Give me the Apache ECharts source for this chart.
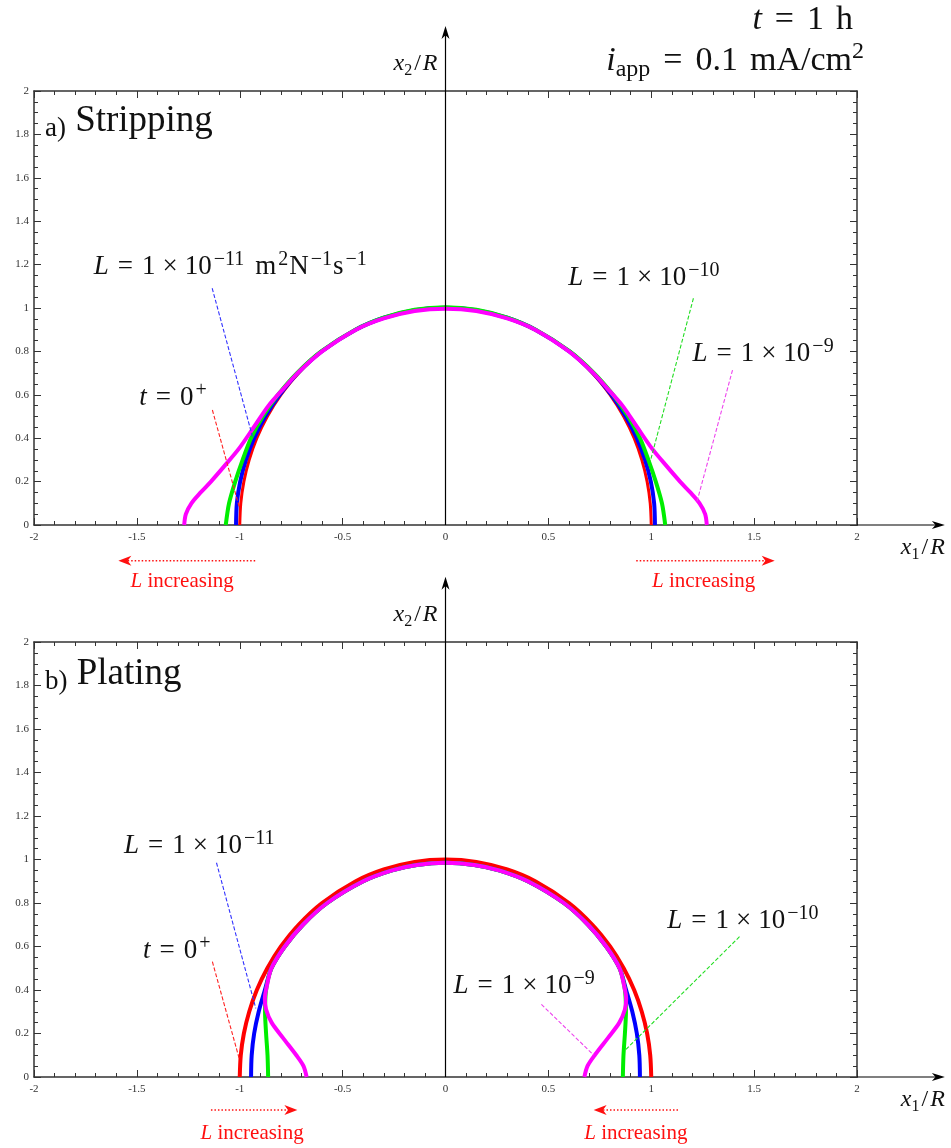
<!DOCTYPE html>
<html>
<head>
<meta charset="utf-8">
<script src="https://cdn.jsdelivr.net/npm/echarts@6/dist/echarts.min.js"></script>
<style>
  html, body { margin: 0; padding: 0; background: #fff; }
  #chart { width: 951px; height: 1148px; }
</style>
</head>
<body>
<div id="chart"></div>
<script>
(function () {
  'use strict';

  var SERIF = '"Liberation Serif", "DejaVu Serif", serif';

  // axes
  var xTicks = [-2, -1.5, -1, -0.5, 0, 0.5, 1, 1.5, 2];
  var yTicks = [0, 0.2, 0.4, 0.6, 0.8, 1, 1.2, 1.4, 1.6, 1.8, 2];

  // right half of every profile, from the foot (x2 = 0) up to the apex (x1 = 0)
  var initialHalf = [[1, 0], [0.995, 0.1], [0.98, 0.2], [0.954, 0.3], [0.917, 0.4], [0.866, 0.5], [0.8, 0.6],
    [0.714, 0.7], [0.6, 0.8], [0.436, 0.9], [0.3, 0.954], [0.15, 0.989], [0, 1]];

  // a) stripping
  var stripBlueHalf = [[1.018, 0], [1.014, 0.1], [0.998, 0.2], [0.97, 0.3], [0.93, 0.4], [0.876, 0.5], [0.806, 0.6],
    [0.718, 0.7], [0.602, 0.8], [0.437, 0.9], [0.3, 0.955], [0.15, 0.99], [0, 1.001]];
  var stripGreenHalf = [[1.068, 0], [1.052, 0.1], [1.022, 0.2], [0.986, 0.3], [0.945, 0.4], [0.888, 0.5], [0.814, 0.6],
    [0.722, 0.7], [0.604, 0.8], [0.438, 0.9], [0.3, 0.956], [0.15, 0.992], [0, 1.004]];
  var stripMagentaHalf = [[1.27, 0], [1.262, 0.05], [1.235, 0.1], [1.19, 0.15], [1.14, 0.2], [1.076, 0.27],
    [1.003, 0.353], [0.93, 0.453], [0.86, 0.55], [0.786, 0.63], [0.708, 0.71], [0.6, 0.8], [0.435, 0.9],
    [0.3, 0.952], [0.15, 0.986], [0, 0.997]];

  // b) plating
  var plateBlueHalf = [[0.945, 0], [0.942, 0.1], [0.93, 0.2], [0.908, 0.3], [0.878, 0.4], [0.846, 0.5], [0.781, 0.6],
    [0.693, 0.7], [0.575, 0.8], [0.4, 0.9], [0.26, 0.95], [0.14, 0.975], [0, 0.985]];
  var plateGreenHalf = [[0.862, 0], [0.865, 0.1], [0.872, 0.2], [0.877, 0.3], [0.872, 0.4], [0.846, 0.5],
    [0.781, 0.6], [0.693, 0.7], [0.575, 0.8], [0.4, 0.9], [0.26, 0.95], [0.14, 0.975], [0, 0.985]];
  var plateMagentaHalf = [[0.675, 0], [0.69, 0.05], [0.725, 0.1], [0.79, 0.18], [0.845, 0.25], [0.872, 0.31],
    [0.878, 0.36], [0.868, 0.42], [0.846, 0.5], [0.781, 0.6], [0.693, 0.7], [0.575, 0.8], [0.4, 0.9],
    [0.26, 0.95], [0.14, 0.975], [0, 0.985]];

  // leader lines (data coordinates of the two ends)
  var stripLeaders = [
    [[-1.134, 1.091], [-0.938, 0.407]],
    [[-1.133, 0.53], [-1.003, 0.084]],
    [[1.205, 1.045], [0.995, 0.292]],
    [[1.395, 0.714], [1.222, 0.107]]
  ];
  var plateLeaders = [
    [[-1.113, 0.985], [-0.922, 0.316]],
    [[-1.133, 0.53], [-1.003, 0.086]],
    [[1.429, 0.645], [0.874, 0.124]],
    [[0.466, 0.334], [0.72, 0.101]]
  ];
  var leaderColors = ['#3333ff', '#ff2222', '#22dd22', '#ee44ee'];

  var COLORS = { red: '#ff0000', blue: '#0000ff', green: '#00ee00', magenta: '#ff00ff' };

  function fullProfile(half) {
    var out = [];
    var i;
    for (i = 0; i < half.length; i += 1) {
      out.push([-half[i][0], half[i][1]]);
    }
    for (i = half.length - 2; i >= 0; i -= 1) {
      out.push([half[i][0], half[i][1]]);
    }
    return out;
  }

  var tickStyle = { color: '#333', width: 1 };

  function makeXAxes(grid) {
    var base = {
      gridIndex: grid,
      type: 'value',
      min: xTicks[0],
      max: xTicks[xTicks.length - 1],
      interval: xTicks[1] - xTicks[0],
      splitLine: { show: false },
      axisLine: { show: true, onZero: false, lineStyle: { color: '#333', width: 1.5 } },
      axisTick: { show: true, inside: true, length: 7, lineStyle: tickStyle },
      minorTick: { show: true, splitNumber: 5, length: 4, lineStyle: tickStyle }
    };
    var bottom = echarts.util.merge({
      position: 'bottom',
      axisLabel: { show: true, margin: 7, fontFamily: SERIF, fontSize: 11, color: '#333' }
    }, base, true);
    var top = echarts.util.merge({
      position: 'top',
      axisLabel: { show: false }
    }, base, true);
    return [bottom, top];
  }

  function makeYAxes(grid) {
    var base = {
      gridIndex: grid,
      type: 'value',
      min: yTicks[0],
      max: yTicks[yTicks.length - 1],
      interval: yTicks[1] - yTicks[0],
      splitLine: { show: false },
      axisLine: { show: true, onZero: false, lineStyle: { color: '#333', width: 1.5 } },
      axisTick: { show: true, inside: true, length: 7, lineStyle: tickStyle },
      minorTick: { show: true, splitNumber: 4, length: 4, lineStyle: tickStyle }
    };
    var left = echarts.util.merge({
      position: 'left',
      axisLabel: { show: true, margin: 5, fontFamily: SERIF, fontSize: 11, color: '#333' }
    }, base, true);
    var right = echarts.util.merge({
      position: 'right',
      axisLabel: { show: false }
    }, base, true);
    return [left, right];
  }

  function profileSeries(axis, half, color, width) {
    return {
      type: 'line',
      xAxisIndex: axis,
      yAxisIndex: axis,
      data: fullProfile(half),
      smooth: 0.3,
      showSymbol: false,
      symbol: 'none',
      silent: true,
      lineStyle: { color: color, width: width }
    };
  }

  function leaderSeries(axis, pts, color) {
    return {
      type: 'line',
      xAxisIndex: axis,
      yAxisIndex: axis,
      data: pts,
      symbol: 'none',
      silent: true,
      z: 5,
      lineStyle: { color: color, width: 1.1, type: [4, 2] }
    };
  }

  var series = [
    profileSeries(0, initialHalf, COLORS.red, 3),
    profileSeries(0, stripBlueHalf, COLORS.blue, 4),
    profileSeries(0, stripGreenHalf, COLORS.green, 4),
    profileSeries(0, stripMagentaHalf, COLORS.magenta, 4),
    profileSeries(2, initialHalf, COLORS.red, 4),
    profileSeries(2, plateBlueHalf, COLORS.blue, 4),
    profileSeries(2, plateGreenHalf, COLORS.green, 4),
    profileSeries(2, plateMagentaHalf, COLORS.magenta, 4)
  ];
  for (var s = 0; s < 4; s += 1) {
    series.push(leaderSeries(0, stripLeaders[s], leaderColors[s]));
    series.push(leaderSeries(2, plateLeaders[s], leaderColors[s]));
  }

  var chart = echarts.init(document.getElementById('chart'));
  chart.setOption({
    animation: false,
    backgroundColor: '#fff',
    grid: [
      { left: 34, top: 91, width: 823, height: 434 },
      { left: 34, top: 642, width: 823, height: 435 }
    ],
    xAxis: makeXAxes(0).concat(makeXAxes(1)),
    yAxis: makeYAxes(0).concat(makeYAxes(1)),
    series: series
  });

  // ---- annotations ----
  var INK = '#111';
  var rich = {
    it: { fontFamily: SERIF, fontStyle: 'italic', fontSize: 27, lineHeight: 34, fill: INK },
    n: { fontFamily: SERIF, fontSize: 27, lineHeight: 34, fill: INK },
    eq: { fontFamily: SERIF, fontSize: 27, lineHeight: 34, padding: [0, 9, 0, 9], fill: INK },
    tm: { fontFamily: SERIF, fontSize: 27, lineHeight: 34, padding: [0, 7, 0, 7], fill: INK },
    gap: { fontFamily: SERIF, fontSize: 27, lineHeight: 34, padding: [0, 0, 0, 10], fill: INK },
    sup: { fontFamily: SERIF, fontSize: 20, lineHeight: 18, verticalAlign: 'top', padding: [0, 1, 0, 2], fill: INK },

    hit: { fontFamily: SERIF, fontStyle: 'italic', fontSize: 34, lineHeight: 42, fill: INK },
    hn: { fontFamily: SERIF, fontSize: 34, lineHeight: 42, fill: INK },
    heq: { fontFamily: SERIF, fontSize: 34, lineHeight: 42, padding: [0, 13, 0, 13], fill: INK },
    hgap: { fontFamily: SERIF, fontSize: 34, lineHeight: 42, padding: [0, 0, 0, 12], fill: INK },
    hsub: { fontFamily: SERIF, fontSize: 24, lineHeight: 22, verticalAlign: 'bottom', fill: INK },
    hsup: { fontFamily: SERIF, fontSize: 24, lineHeight: 22, verticalAlign: 'top', fill: INK },

    ax: { fontFamily: SERIF, fontStyle: 'italic', fontSize: 24, lineHeight: 30, fill: INK },
    axn: { fontFamily: SERIF, fontSize: 24, lineHeight: 30, padding: [0, 2, 0, 2], fill: INK },
    axs: { fontFamily: SERIF, fontSize: 16, lineHeight: 14, verticalAlign: 'bottom', fill: INK },

    tag: { fontFamily: SERIF, fontSize: 27, lineHeight: 36, verticalAlign: 'bottom', fill: INK },
    name: { fontFamily: SERIF, fontSize: 37, lineHeight: 42, fill: INK },

    rl: { fontFamily: SERIF, fontStyle: 'italic', fontSize: 21, fill: '#ff1010' },
    rn: { fontFamily: SERIF, fontSize: 21, fill: '#ff1010' }
  };

  var notes = [
    { axis: 0, at: [-1.71, 1.188], text: '{it|L}{eq|=}{n|1}{tm|×}{n|10}{sup|−11}{gap|m}{sup|2}{n|N}{sup|−1}{n|s}{sup|−1}' },
    { axis: 0, at: [-1.488, 0.585], text: '{it|t}{eq|=}{n|0}{sup|+}' },
    { axis: 0, at: [0.597, 1.138], text: '{it|L}{eq|=}{n|1}{tm|×}{n|10}{sup|−10}' },
    { axis: 0, at: [1.2, 0.79], text: '{it|L}{eq|=}{n|1}{tm|×}{n|10}{sup|−9}' },
    { axis: 0, at: [-1.947, 1.862], text: '{tag|a)}{name| Stripping}' },
    { axis: 2, at: [-1.563, 1.061], text: '{it|L}{eq|=}{n|1}{tm|×}{n|10}{sup|−11}' },
    { axis: 2, at: [-1.47, 0.579], text: '{it|t}{eq|=}{n|0}{sup|+}' },
    { axis: 2, at: [1.078, 0.717], text: '{it|L}{eq|=}{n|1}{tm|×}{n|10}{sup|−10}' },
    { axis: 2, at: [0.039, 0.418], text: '{it|L}{eq|=}{n|1}{tm|×}{n|10}{sup|−9}' },
    { axis: 2, at: [-1.947, 1.852], text: '{tag|b)}{name| Plating}' }
  ];

  // "L increasing" arrows: tail, head (data coordinates) and caption centre
  var growthArrows = [
    { axis: 0, from: [-0.925, -0.165], to: [-1.59, -0.165], label: [-1.28, -0.26] },
    { axis: 0, from: [0.927, -0.165], to: [1.6, -0.165], label: [1.255, -0.26] },
    { axis: 2, from: [-1.14, -0.152], to: [-0.72, -0.152], label: [-0.94, -0.258] },
    { axis: 2, from: [1.13, -0.152], to: [0.72, -0.152], label: [0.925, -0.258] }
  ];

  function toPx(axis, pt) {
    return chart.convertToPixel({ xAxisIndex: axis, yAxisIndex: axis }, pt);
  }

  function arrowHead(tip, dir, len, half, color) {
    var bx = tip[0] - dir[0] * len;
    var by = tip[1] - dir[1] * len;
    var nx = -dir[1];
    var ny = dir[0];
    var mx = tip[0] - dir[0] * len * 0.72;
    var my = tip[1] - dir[1] * len * 0.72;
    return {
      type: 'polygon',
      z: 20,
      silent: true,
      shape: { points: [tip, [bx + nx * half, by + ny * half], [mx, my], [bx - nx * half, by - ny * half]] },
      style: { fill: color }
    };
  }

  function textEl(x, y, text, align) {
    return {
      type: 'text',
      z: 20,
      silent: true,
      x: x,
      y: y,
      style: {
        text: text,
        rich: rich,
        align: align || 'left',
        textAlign: align || 'left',
        verticalAlign: 'middle',
        textVerticalAlign: 'middle'
      }
    };
  }

  var els = [];
  var panelAxes = [0, 2];
  for (var p = 0; p < panelAxes.length; p += 1) {
    var ax = panelAxes[p];
    // vertical axis through x1 = 0
    var o = toPx(ax, [0, 0]);
    var yTip = toPx(ax, [0, 2.3]);
    els.push({ type: 'line', z: 20, silent: true, shape: { x1: o[0], y1: o[1], x2: yTip[0], y2: yTip[1] + 8 }, style: { stroke: '#000', lineWidth: 1.2 } });
    els.push(arrowHead(yTip, [0, -1], 13, 4, '#000'));
    // horizontal axis extension
    var xEnd = toPx(ax, [2, 0]);
    var xTip = toPx(ax, [2.427, 0]);
    els.push({ type: 'line', z: 20, silent: true, shape: { x1: xEnd[0], y1: xEnd[1], x2: xTip[0] - 8, y2: xTip[1] }, style: { stroke: '#000', lineWidth: 1.2 } });
    els.push(arrowHead(xTip, [1, 0], 13, 4, '#000'));
    // axis names
    var yl = toPx(ax, [0, 2.125]);
    els.push(textEl(yl[0] - 8, yl[1], '{ax|x}{axs|2}{axn|/}{ax|R}', 'right'));
    var xl = toPx(ax, [2.427, -0.106]);
    els.push(textEl(xl[0], xl[1], '{ax|x}{axs|1}{axn|/}{ax|R}', 'right'));
  }

  for (var n = 0; n < notes.length; n += 1) {
    var pt = toPx(notes[n].axis, notes[n].at);
    els.push(textEl(pt[0], pt[1], notes[n].text, 'left'));
  }

  for (var g = 0; g < growthArrows.length; g += 1) {
    var ga = growthArrows[g];
    var a0 = toPx(ga.axis, ga.from);
    var a1 = toPx(ga.axis, ga.to);
    var dirX = a1[0] > a0[0] ? 1 : -1;
    els.push({
      type: 'line', z: 20, silent: true,
      shape: { x1: a0[0], y1: a0[1], x2: a1[0] - dirX * 9, y2: a1[1] },
      style: { stroke: '#ff1010', lineWidth: 1.5, lineDash: [1.5, 2] }
    });
    els.push(arrowHead(a1, [dirX, 0], 13, 5, '#ff1010'));
    var lp = toPx(ga.axis, ga.label);
    els.push(textEl(lp[0], lp[1], '{rl|L}{rn| increasing}', 'center'));
  }

  // header
  els.push(textEl(853, 20, '{hit|t}{heq|=}{hn|1}{hgap|h}', 'right'));
  els.push(textEl(864, 61, '{hit|i}{hsub|app}{heq|=}{hn|0.1}{hgap|mA/cm}{hsup|2}', 'right'));

  chart.setOption({ graphic: { elements: els } });

  window.addEventListener('resize', function () {
    chart.resize();
  });
})();
</script>
</body>
</html>
